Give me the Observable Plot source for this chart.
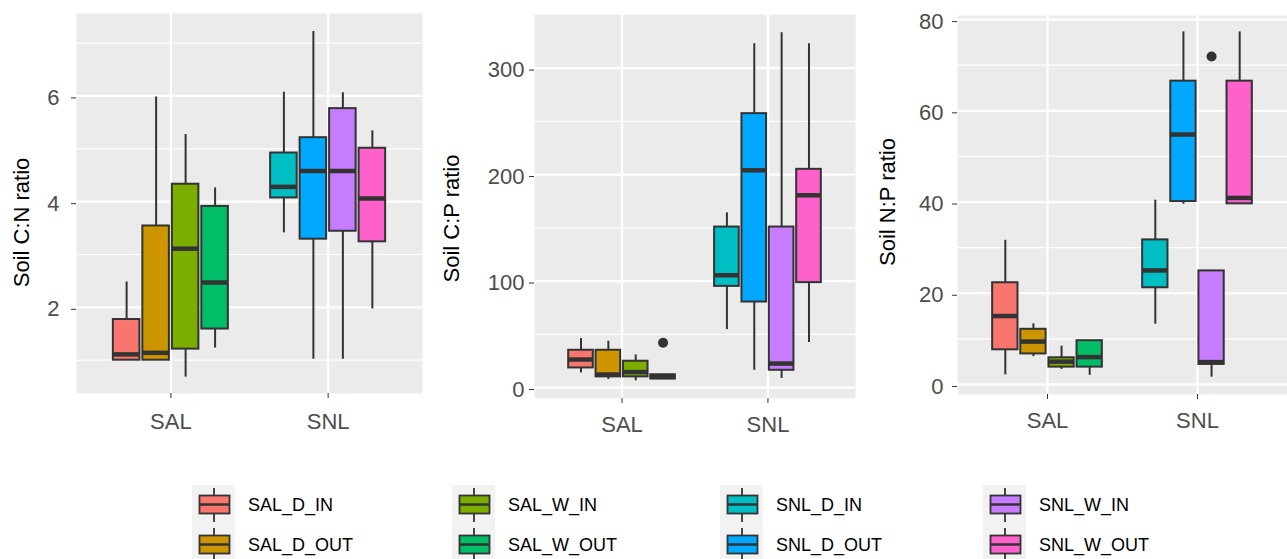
<!DOCTYPE html>
<html><head><meta charset="utf-8">
<script src="https://cdn.jsdelivr.net/npm/d3@7"></script>
<script src="https://cdn.jsdelivr.net/npm/@observablehq/plot@0.6"></script>
<style>
body{margin:0;background:#fff;font-family:"Liberation Sans",Arial,sans-serif;}
#wrap{position:relative;width:1287px;height:559px;overflow:hidden;background:#fff;}
.p{position:absolute;top:0;}
.lg{position:absolute;display:flex;align-items:center;height:40px;}
.lg span{font-size:18px;color:#000;margin-left:13px;white-space:nowrap;}
</style></head><body><div id="wrap"></div>
<script>
// ---- data ----
const sites = ["SAL", "SNL"];
const groups = ["SAL_D_IN","SAL_D_OUT","SAL_W_IN","SAL_W_OUT","SNL_D_IN","SNL_D_OUT","SNL_W_IN","SNL_W_OUT"];
const colors = ["#F8766D","#CD9600","#7CAE00","#00BE67","#00BFC4","#00A9FF","#C77CFF","#FF61CC"];

// Soil C:N ratio
const cnMin = [1.0, 1.0, 0.68, 1.23, 3.41, 1.02, 1.02, 1.97];
const cnQ1  = [1.0, 1.0, 1.21, 1.59, 4.07, 3.29, 3.44, 3.24];
const cnMed = [1.11, 1.14, 3.11, 2.47, 4.28, 4.58, 4.58, 4.06];
const cnQ3  = [1.77, 3.54, 4.33, 3.91, 4.92, 5.21, 5.76, 5.01];
const cnMax = [2.48, 5.98, 5.27, 4.26, 6.07, 7.22, 6.06, 5.34];
const cnOutGroup = [];
const cnOutValue = [];
const cnTicks = [2, 4, 6];
const cnMinor = [1, 3, 5, 7];

// Soil C:P ratio
const cpMin = [13.7, 7.5, 6.2, 8, 54.4, 16.2, 8.4, 42.2];
const cpQ1  = [18.4, 10, 10, 8, 95, 80.3, 16.2, 98.5];
const cpMed = [26.3, 12.2, 14.5, 10, 105.4, 204, 22.5, 180.5];
const cpQ3  = [35, 35, 24.7, 12, 150.7, 257.2, 150.7, 204.9];
const cpMax = [46, 43.5, 30.6, 12, 164, 322.8, 333.2, 322.8];
const cpOutGroup = ["SAL_W_OUT"];
const cpOutValue = [42];
const cpTicks = [0, 100, 200, 300];
const cpMinor = [50, 150, 250];

// Soil N:P ratio
const npMin = [2.1, 6.1, 3.3, 2.0, 13.2, 39.5, 1.6, 39.6];
const npQ1  = [7.6, 6.7, 3.8, 3.8, 21.2, 40.1, 4.4, 39.6];
const npMed = [15.0, 9.4, 5.0, 6.0, 25.0, 54.8, 4.9, 40.9];
const npQ3  = [22.3, 12.1, 5.85, 9.6, 31.7, 66.5, 24.9, 66.5];
const npMax = [31.6, 13.3, 8.4, 9.6, 40.4, 77.3, 24.9, 77.3];
const npOutGroup = ["SNL_W_IN"];
const npOutValue = [71.9];
const npTicks = [0, 20, 40, 60, 80];
const npMinor = [10, 30, 50, 70];

// ---- drawing ----
function makePanel(cfg) {
  const n = 4, slot = 0.75 / n, half = slot * 0.9 / 2;
  const rows = groups.map((g, i) => {
    const site = sites.indexOf(g.slice(0, 3)) + 1;
    const xc = site + ((i % n) - (n - 1) / 2) * slot;
    return {g, xc, xl: xc - half, xr: xc + half,
      min: cfg.min[i], q1: cfg.q1[i], med: cfg.med[i], q3: cfg.q3[i], max: cfg.max[i]};
  });
  const outs = cfg.outG.map((g, k) => ({xc: rows.find(r => r.g === g).xc, v: cfg.outV[k]}));
  return Plot.plot({
    width: cfg.width, height: 450,
    marginLeft: cfg.ml, marginRight: cfg.mr, marginTop: cfg.mt, marginBottom: cfg.mb,
    style: {fontFamily: "Liberation Sans, Arial, sans-serif", fontSize: "22px", color: "#4D4D4D", background: "transparent", overflow: "visible"},
    x: {domain: [0.4, 2.6]},
    y: {domain: cfg.domain},
    color: {domain: groups, range: colors},
    marks: [
      Plot.frame({fill: "#EBEBEB", stroke: null}),
      Plot.ruleY(cfg.minor, {stroke: "#fff", strokeWidth: 1.2}),
      Plot.ruleY(cfg.ticks, {stroke: "#fff", strokeWidth: 2.2}),
      Plot.ruleX([1, 2], {stroke: "#fff", strokeWidth: 2.2}),
      Plot.ruleX(rows, {x: "xc", y1: "min", y2: "max", stroke: "#333", strokeWidth: 2}),
      Plot.rect(rows, {x1: "xl", x2: "xr", y1: "q1", y2: "q3", fill: "g", stroke: "#333", strokeWidth: 2}),
      Plot.ruleY(rows, {x1: "xl", x2: "xr", y: "med", stroke: "#333", strokeWidth: 4.5}),
      Plot.dot(outs, {x: "xc", y: "v", r: 5, fill: "#333", stroke: null}),
      Plot.axisY({ticks: cfg.ticks, tickSize: 5, tickPadding: cfg.tpy, label: null, stroke: "#333", fill: "#4D4D4D", dy: 2}),
      Plot.axisX({ticks: [1, 2], tickFormat: d => sites[d - 1], tickSize: 5, tickPadding: cfg.tpx, label: null, stroke: "#333", fill: "#4D4D4D"}),
      Plot.text([cfg.title], {frameAnchor: "left", textAnchor: "middle", rotate: -90, dx: cfg.tdx, dy: cfg.tdy, fontSize: 22, fill: "#000"})
    ]
  });
}

const wrap = document.getElementById("wrap");
const panels = [
  {left: 0, width: 430, ml: 76, mr: 8, mt: 13, mb: 57, tpy: 12, tpx: 15, tdx: -55, tdy: 19,
   domain: [0.37, 7.56], ticks: cnTicks, minor: cnMinor, title: "Soil C:N ratio",
   min: cnMin, q1: cnQ1, med: cnMed, q3: cnQ3, max: cnMax, outG: cnOutGroup, outV: cnOutValue},
  {left: 430, width: 430, ml: 104, mr: 5, mt: 14, mb: 52, tpy: 5, tpx: 13, tdx: -83, tdy: 12,
   domain: [-10.3, 350.3], ticks: cpTicks, minor: cpMinor, title: "Soil C:P ratio",
   min: cpMin, q1: cpQ1, med: cpMed, q3: cpQ3, max: cpMax, outG: cpOutGroup, outV: cpOutValue},
  {left: 860, width: 427, ml: 97, mr: 0, mt: 15, mb: 56, tpy: 9, tpx: 13, tdx: -70, tdy: -3,
   domain: [-2.2, 80.9], ticks: npTicks, minor: npMinor, title: "Soil N:P ratio",
   min: npMin, q1: npQ1, med: npMed, q3: npQ3, max: npMax, outG: npOutGroup, outV: npOutValue}
];
for (const cfg of panels) {
  const el = makePanel(cfg);
  const d = document.createElement("div");
  d.className = "p";
  d.style.left = cfg.left + "px";
  d.appendChild(el);
  wrap.appendChild(d);
}

// legend (4 columns x 2 rows)
const colLeft = [192, 452, 720, 983];
const rowTop = [485, 525];
groups.forEach((g, i) => {
  const col = Math.floor(i / 2), row = i % 2;
  const item = document.createElement("div");
  item.className = "lg";
  item.style.left = colLeft[col] + "px";
  item.style.top = rowTop[row] + "px";
  item.innerHTML =
    `<svg width="43" height="40" style="display:block;background:#F2F2F2">
       <line x1="22" x2="22" y1="3" y2="37" stroke="#333" stroke-width="1.8"/>
       <rect x="7.5" y="10.5" width="30" height="18" fill="${colors[i]}" stroke="#333" stroke-width="1.8"/>
       <line x1="7.5" x2="37.5" y1="19.5" y2="19.5" stroke="#333" stroke-width="2.5"/>
     </svg><span>${g}</span>`;
  wrap.appendChild(item);
});
</script>
</body></html>
